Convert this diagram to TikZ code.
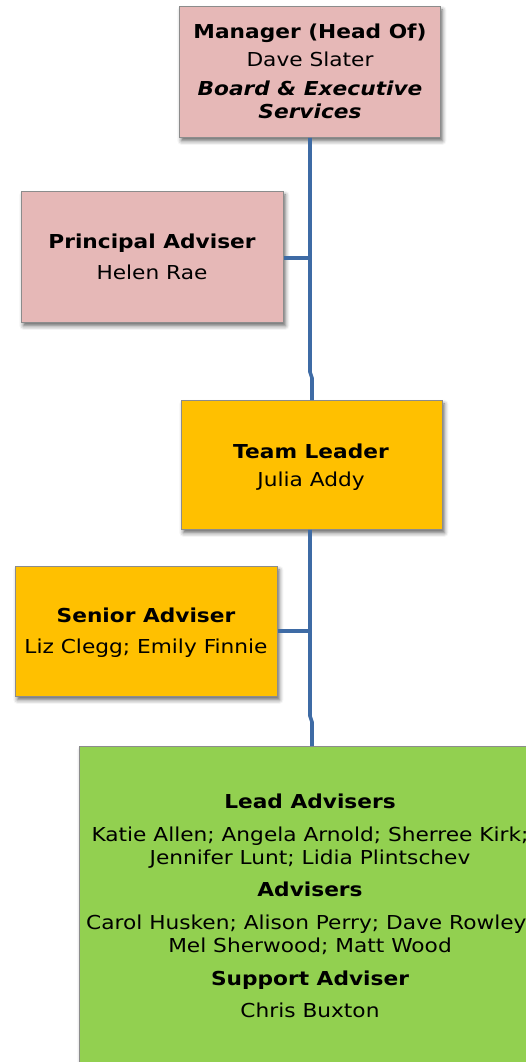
\documentclass[tikz,border=0pt]{standalone}
\usepackage{fontspec}
\setmainfont[FakeStretch=1.13]{DejaVu Sans}
\usetikzlibrary{shadows.blur}
\definecolor{pinkfill}{HTML}{E6B8B7}
\definecolor{goldfill}{HTML}{FFC000}
\definecolor{greenfill}{HTML}{92D050}
\definecolor{linkblue}{HTML}{3E6BA5}
\definecolor{boxedge}{HTML}{8C8C8C}
\tikzset{
  x=1pt, y=-1pt,
  orgbox/.style={draw=boxedge, line width=0.8pt, anchor=north west, inner sep=0pt,
    blur shadow={shadow xshift=2pt, shadow yshift=-3.5pt, shadow blur radius=4pt, shadow opacity=60}},
  txt/.style={inner sep=0pt, font=\fontsize{19.2}{22}\selectfont, anchor=base},
  hdr/.style={txt, font=\fontsize{19.2}{22}\selectfont\bfseries},
  hdrit/.style={txt, font=\fontsize{19.2}{22}\selectfont\bfseries\itshape},
  link/.style={draw=linkblue, line width=3.6pt}
}
\begin{document}
\begin{tikzpicture}
\useasboundingbox (0,0) rectangle (526,1062);
\clip (0,0) rectangle (526,1062);
% boxes
\node[orgbox, fill=pinkfill, minimum width=261pt, minimum height=131pt] (mgr) at (179,6) {};
\node[orgbox, fill=pinkfill, minimum width=262pt, minimum height=131pt] (pa) at (21,191) {};
\node[orgbox, fill=goldfill, minimum width=261pt, minimum height=129pt] (tl) at (181,400) {};
\node[orgbox, fill=goldfill, minimum width=262pt, minimum height=130pt] (sa) at (15,566) {};
\node[orgbox, fill=greenfill, minimum width=470pt, minimum height=340pt] (team) at (79,746) {};
% connectors
\coordinate (j1) at (310,372);
\coordinate (j1b) at (312,378);
\coordinate (pj) at (310,258);
\draw[link] (mgr.south -| j1) -- (j1) -- (j1b) -- (tl.north -| j1b);
\draw[link] (pa.east |- pj) -- (pj);
\coordinate (j2) at (310,716);
\coordinate (j2b) at (312,722);
\coordinate (sj) at (310,631);
\draw[link] (tl.south -| j2) -- (j2) -- (j2b) -- (team.north -| j2b);
\draw[link] (sa.east |- sj) -- (sj);
% texts
\node[hdr] (t1) at (310,39) {Manager (Head Of)};
\node[txt] (t2) at (310,67) {Dave Slater};
\node[hdrit] (t3) at (310,96) {Board \& Executive};
\node[hdrit] (t4) at (310,119) {Services};
\node[hdr] (p1) at (152,248) {Principal Adviser};
\node[txt] (p2) at (152,279) {Helen Rae};
\node[hdr] (l1) at (311,458) {Team Leader};
\node[txt] (l2) at (311,486) {Julia Addy};
\node[hdr] (s1) at (146,622) {Senior Adviser};
\node[txt] (s2) at (146,653) {Liz Clegg; Emily Finnie};
\node[hdr] (g1) at (310,808) {Lead Advisers};
\node[txt] (g2) at (310,841) {Katie Allen; Angela Arnold; Sherree Kirk;};
\node[txt] (g3) at (310,864) {Jennifer Lunt; Lidia Plintschev};
\node[hdr] (g4) at (310,896) {Advisers};
\node[txt] (g5) at (310,929) {Carol Husken; Alison Perry; Dave Rowley;};
\node[txt] (g6) at (310,952) {Mel Sherwood; Matt Wood};
\node[hdr] (g7) at (310,985) {Support Adviser};
\node[txt] (g8) at (310,1017) {Chris Buxton};
\end{tikzpicture}
\end{document}
